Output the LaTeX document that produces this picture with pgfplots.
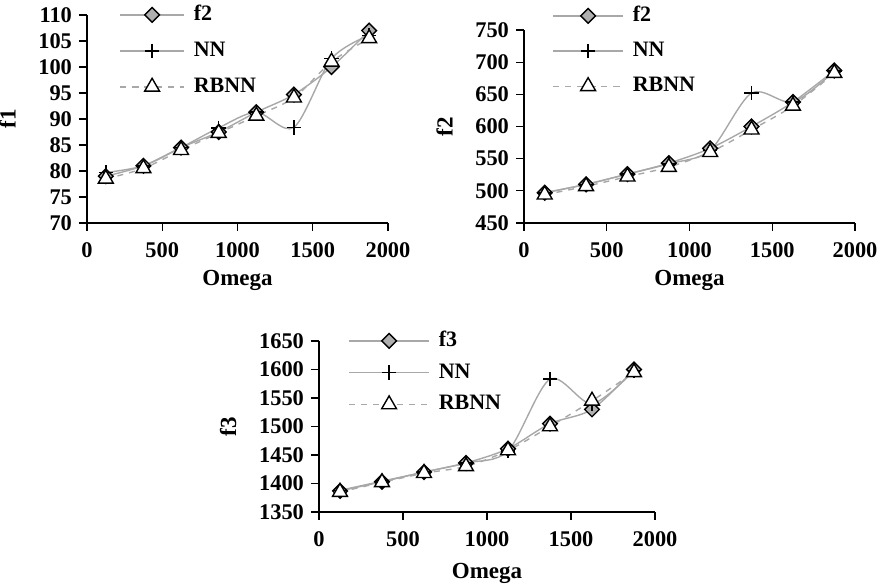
\documentclass[border=0pt]{standalone}
\usepackage{fontspec}
\setmainfont{Liberation Serif}
\usepackage{pgfplots}
\pgfplotsset{compat=1.18}

\definecolor{lgray}{RGB}{168,168,168}
\definecolor{dfill}{RGB}{175,175,175}

\pgfplotsset{
  myaxis/.style={
    scale only axis,
    axis x line*=bottom, axis y line*=left,
    axis line style={line width=0.6pt, black, -},
    tick align=outside,
    major tick length=4pt,
    tick style={line width=0.6pt, black},
    xmin=0, xmax=2000, xtick={0,500,...,2000},
    /pgf/number format/assume math mode=true,
    /pgf/number format/set thousands separator={},
    tick label style={font=\fontsize{11.2}{13}\selectfont\bfseries},
    xticklabel style={yshift=-2.5pt},
    label style={font=\fontsize{11.5}{13}\selectfont\bfseries},
    ylabel style={yshift=4.5pt},
    xlabel style={yshift=1pt},
    legend style={draw=none, fill=none, font=\fontsize{11}{13}\selectfont\bfseries,
      anchor=north west, at={(rel axis cs:0,1)},
      /tikz/every odd column/.append style={column sep=2.5pt},
      nodes={inner sep=2pt, text height=7.5pt, text depth=2pt}},
    legend cell align=left,
    clip=false,
  },
  s1/.style={lgray, line width=0.7pt, smooth, mark=square*, mark size=2.6pt,
    mark options={rotate=45, fill=dfill, draw=black, solid, line width=0.7pt}},
  s2/.style={lgray, line width=0.7pt, smooth, mark=+, mark size=3.6pt,
    mark options={draw=black, solid, line width=0.75pt}},
  s3/.style={lgray, line width=0.7pt, smooth, dash pattern=on 3pt off 3pt,
    mark=triangle*, mark size=4.3pt,
    mark options={fill=white, draw=black, solid, line width=0.7pt}},
}

\begin{document}
\begin{tikzpicture}
\path[use as bounding box] (0,0) rectangle (439pt,293.5pt);

% ---------- plot 1 ----------
\begin{axis}[myaxis,
  at={(43.5pt,182pt)}, anchor=south west,
  width=150.5pt, height=104pt,
  ymin=70, ymax=110, ytick={70,75,...,110},
  xlabel={Omega}, ylabel={f1},
  legend image code/.code={\draw[mark repeat=2,mark phase=2,#1] plot coordinates {(0pt,0pt)(16pt,0pt)(32pt,0pt)};},
  legend style={xshift=13pt, yshift=9pt, row sep=4.5pt},
]
\addplot[s1] coordinates {(125,79) (375,81) (625,84.5) (875,87.5) (1125,91.3) (1375,94.7) (1625,100) (1875,107)};
\addlegendentry{f2}
\addplot[s2] coordinates {(125,79.7) (375,81) (625,84.5) (875,88.3) (1125,91.3) (1375,88.4) (1625,101.6) (1875,106.1)};
\addlegendentry{NN}
\addplot[s3] coordinates {(125,78.5) (375,80.5) (625,84) (875,87.3) (1125,90.6) (1375,94.1) (1625,101) (1875,105.5)};
\addlegendentry{RBNN}
\end{axis}

% ---------- plot 2 ----------
\begin{axis}[myaxis,
  at={(262pt,182pt)}, anchor=south west,
  width=165.5pt, height=96.5pt,
  ymin=450, ymax=750, ytick={450,500,...,750},
  xlabel={Omega}, ylabel={f2},
  legend image code/.code={\draw[mark repeat=2,mark phase=2,#1] plot coordinates {(0pt,0pt)(17.5pt,0pt)(35pt,0pt)};},
  legend style={xshift=11pt, yshift=16pt, row sep=4.1pt},
]
\addplot[s1] coordinates {(125,497) (375,510) (625,526) (875,543) (1125,566) (1375,600) (1625,638) (1875,687)};
\addlegendentry{f2}
\addplot[s2] coordinates {(125,497) (375,510) (625,526) (875,542) (1125,563) (1375,652) (1625,638) (1875,686)};
\addlegendentry{NN}
\addplot[s3] coordinates {(125,494) (375,507) (625,522) (875,537) (1125,560) (1375,595) (1625,632) (1875,683)};
\addlegendentry{RBNN}
\end{axis}

% ---------- plot 3 ----------
\begin{axis}[myaxis,
  at={(159.5pt,37.5pt)}, anchor=south west,
  width=168pt, height=85.5pt,
  ymin=1350, ymax=1650, ytick={1350,1400,...,1650},
  xlabel={Omega}, ylabel={f3},
  xlabel style={yshift=-2pt},
  legend image code/.code={\draw[mark repeat=2,mark phase=2,#1] plot coordinates {(0pt,0pt)(20pt,0pt)(40pt,0pt)};},
  legend style={xshift=11.5pt, yshift=9pt, row sep=2.4pt},
]
\addplot[s1] coordinates {(125,1387) (375,1403) (625,1420) (875,1436) (1125,1461) (1375,1505) (1625,1530) (1875,1600)};
\addlegendentry{f3}
\addplot[s2] coordinates {(125,1388) (375,1404) (625,1420) (875,1436) (1125,1457) (1375,1583) (1625,1540) (1875,1598)};
\addlegendentry{NN}
\addplot[s3] coordinates {(125,1385) (375,1402) (625,1418) (875,1430) (1125,1458) (1375,1500) (1625,1545) (1875,1595)};
\addlegendentry{RBNN}
\end{axis}
\end{tikzpicture}
\end{document}
